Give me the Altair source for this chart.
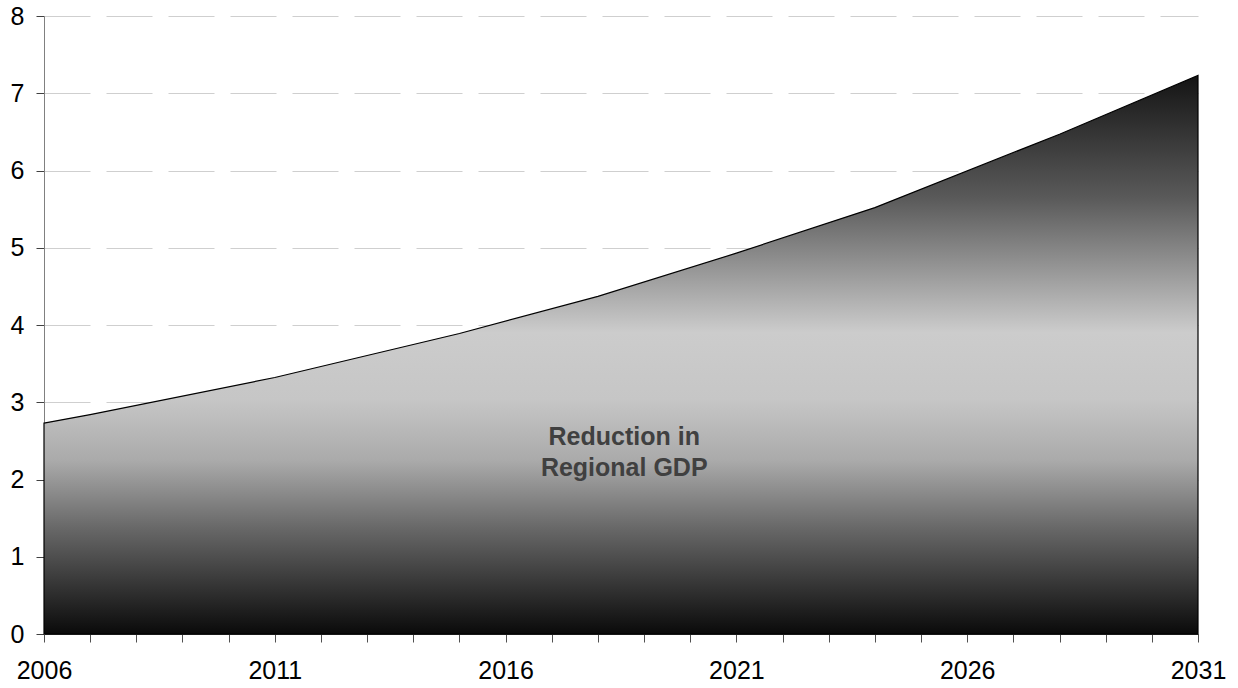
import altair as alt
import pandas as pd

# Reduction in regional GDP by year
years = [2006, 2007, 2011, 2015, 2018, 2021, 2024, 2028, 2031]
gdp_reduction = [2.73, 2.84, 3.32, 3.89, 4.37, 4.93, 5.52, 6.47, 7.23]

# In-chart annotation, one row per text line
label_lines = ["Reduction in", "Regional GDP"]
label_year = [2018.57, 2018.57]
label_value = [2.45, 2.04]

x_ticks = list(range(2006, 2032))
y_ticks = list(range(0, 9))

FONT = "Liberation Sans"

series = pd.DataFrame({"year": years, "value": gdp_reduction})
labels = pd.DataFrame({"text": label_lines, "year": label_year, "value": label_value})

x_scale = alt.Scale(domain=[2006, 2031], nice=False, zero=False)
y_scale = alt.Scale(domain=[0, 8], nice=False)

# dark at the top and bottom of the area, soft light band through the middle
shade = alt.Gradient(
    gradient="linear",
    x1=0, x2=0, y1=0, y2=1,
    stops=[
        alt.GradientStop(color="#141414", offset=0),
        alt.GradientStop(color="#5a5a5a", offset=0.22),
        alt.GradientStop(color="#cccccc", offset=0.46),
        alt.GradientStop(color="#c6c6c6", offset=0.58),
        alt.GradientStop(color="#aaaaaa", offset=0.69),
        alt.GradientStop(color="#686868", offset=0.81),
        alt.GradientStop(color="#0a0a0a", offset=1),
    ],
)

area = alt.Chart(series).mark_area(
    fill=shade, stroke="#000000", strokeWidth=1.2, interpolate="linear"
).encode(
    x=alt.X(
        "year:Q",
        scale=x_scale,
        axis=alt.Axis(
            values=x_ticks,
            format="d",
            labelExpr="(datum.value - 2006) % 5 == 0 ? datum.label : ''",
            labelOverlap=False,
            labelFlush=False,
            grid=False,
            tickSize=8,
            tickColor="#505050",
            domainColor="#303030",
            labelPadding=16,
            title=None,
        ),
    ),
    y=alt.Y(
        "value:Q",
        scale=y_scale,
        axis=alt.Axis(
            values=y_ticks,
            format="d",
            grid=True,
            gridColor="#cfcfcf",
            gridDash=[46, 16],
            gridWidth=1.2,
            tickSize=8,
            tickColor="#404040",
            domainColor="#808080",
            labelPadding=12,
            title=None,
        ),
    ),
)

text = alt.Chart(labels).mark_text(
    font=FONT,
    fontSize=25,
    fontWeight="bold",
    color="#404040",
    align="center",
    baseline="alphabetic",
).encode(
    x=alt.X("year:Q", scale=x_scale),
    y=alt.Y("value:Q", scale=y_scale),
    text="text:N",
)

chart = (
    alt.layer(area, text)
    .properties(
        width=1154,
        height=618,
        autosize=alt.AutoSizeParams(type="none"),
        padding={"left": 44, "top": 16, "right": 40, "bottom": 54},
        background="#ffffff",
    )
    .configure_view(stroke=None)
    .configure_axis(
        labelFont=FONT,
        labelFontSize=25,
        labelColor="#000000",
    )
)

chart.save("out.html", embed_options={"renderer": "svg", "actions": False})
